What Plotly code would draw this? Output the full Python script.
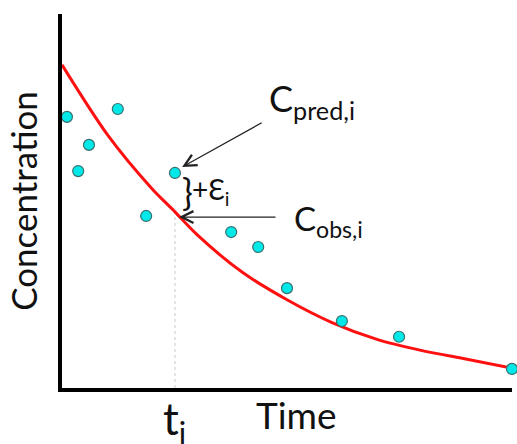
import plotly.graph_objects as go

obs_time = [0.11, 0.36, 0.60, 1.24, 1.87, 2.51, 3.76, 4.36, 5.00, 6.22, 7.49, 10.0]
obs_conc = [7.25, 5.80, 6.50, 7.46, 4.60, 5.75, 4.17, 3.77, 2.67, 1.79, 1.37, 0.51]

# Fitted (predicted) curve, read at regular times
fit_time = [0, 1, 2, 2.51, 3, 4, 5, 6, 7, 8, 9, 10]
fit_conc = [8.64, 6.79, 5.33, 4.71, 4.10, 3.10, 2.36, 1.75, 1.30, 1.00, 0.77, 0.53]

# highlighted observation i
t_i = 2.51
c_pred_i = 4.71

FONT = "Lato"

fig = go.Figure()
fig.add_trace(go.Scatter(x=[t_i, t_i], y=[0, c_pred_i], mode="lines",
                         line=dict(color="#c8c8c8", width=1, dash="dot"),
                         hoverinfo="skip", showlegend=False))
fig.add_trace(go.Scatter(x=fit_time, y=fit_conc, mode="lines",
                         line=dict(color="#ff1010", width=3, shape="spline", smoothing=0.8),
                         showlegend=False, cliponaxis=False))
fig.add_trace(go.Scatter(x=obs_time, y=obs_conc, mode="markers",
                         marker=dict(color="#00e8e8", size=11,
                                     line=dict(color="#3a7070", width=1.2)),
                         showlegend=False, cliponaxis=False))

ann = []
# axis titles
ann.append(dict(text="Concentration", xref="paper", yref="paper", x=-0.087, y=0.50,
                textangle=-90, showarrow=False, xanchor="center", yanchor="middle",
                font=dict(family=FONT, size=35, color="#111111")))
ann.append(dict(text="Time", xref="paper", yref="paper", x=0.427, y=-0.006,
                showarrow=False, xanchor="left", yanchor="top",
                font=dict(family=FONT, size=37, color="#111111")))
ann.append(dict(text="t<sub>i</sub>", xref="x", yref="paper", x=t_i - 0.3, y=-0.006,
                showarrow=False, xanchor="left", yanchor="top",
                font=dict(family=FONT, size=44, color="#111111")))
# labels
ann.append(dict(text="C<sub>pred,i</sub>", xref="paper", yref="paper", x=0.455, y=0.769,
                showarrow=False, xanchor="left", yanchor="middle",
                font=dict(family=FONT, size=36, color="#111111")))
ann.append(dict(text="C<sub>obs,i</sub>", xref="paper", yref="paper", x=0.512, y=0.447,
                showarrow=False, xanchor="left", yanchor="middle",
                font=dict(family=FONT, size=33, color="#111111")))
ann.append(dict(text="+Ɛ<sub>i</sub>", xref="paper", yref="paper", x=0.284, y=0.527,
                showarrow=False, xanchor="left", yanchor="middle",
                font=dict(family=FONT, size=28, color="#111111")))
ann.append(dict(text="}", xref="paper", yref="paper", x=0.262, y=0.523,
                showarrow=False, xanchor="left", yanchor="middle",
                font=dict(family=FONT, size=36, color="#111111")))
# arrows
ann.append(dict(text="", x=2.67, y=5.91, xref="x", yref="y", ax=81, ay=-45,
                showarrow=True, arrowhead=5, arrowsize=1.8, arrowwidth=1.3,
                arrowcolor="#222222", standoff=0))
ann.append(dict(text="", x=2.6, y=4.57, xref="x", yref="y", ax=98, ay=0,
                showarrow=True, arrowhead=5, arrowsize=1.8, arrowwidth=1.3,
                arrowcolor="#222222", standoff=0))

fig.update_layout(
    width=517, height=444,
    margin=dict(l=62, r=5, t=14, b=56),
    paper_bgcolor="white", plot_bgcolor="white",
    annotations=ann,
    xaxis=dict(range=[0, 10], showline=True, linewidth=4, linecolor="black",
               showgrid=False, zeroline=False, showticklabels=False, ticks=""),
    yaxis=dict(range=[0, 10], showline=True, linewidth=4, linecolor="black",
               showgrid=False, zeroline=False, showticklabels=False, ticks=""),
)

fig.write_html("out.html")
